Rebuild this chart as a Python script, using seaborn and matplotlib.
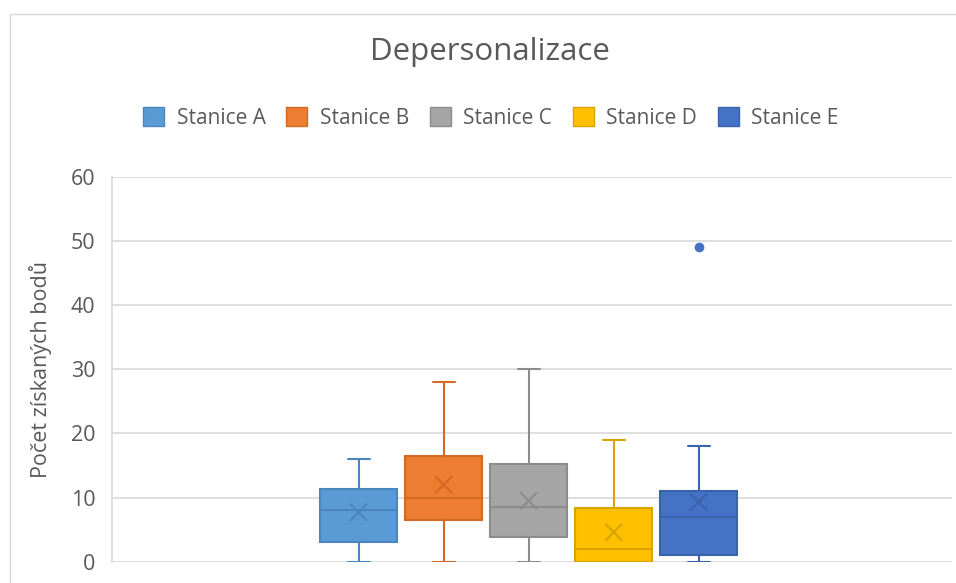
import seaborn as sns
import pandas as pd
import matplotlib.pyplot as plt
from matplotlib.patches import Patch
from matplotlib.lines import Line2D

# values (Excel box & whisker chart)
stations = ["Stanice A", "Stanice B", "Stanice C", "Stanice D", "Stanice E"]
mins = [0, 0, 0, 0, 0]
q1s = [3, 6.5, 3.8, 0, 1]
medians = [8, 10, 8.6, 2, 7]
q3s = [11.3, 16.5, 15.3, 8.3, 11]
maxs = [16, 28, 30, 19, 18]
means = [7.7, 12, 9.5, 4.6, 9.3]
outliers = [[], [], [], [], [49]]

fills = ["#5B9BD5", "#ED7D31", "#A5A5A5", "#FFC000", "#4472C4"]
edges = ["#4A85BE", "#D26A26", "#8C8C8C", "#D9A300", "#3A63AD"]

sns.set_theme(style="white")
plt.rcParams["font.family"] = ["Open Sans", "DejaVu Sans"]
text_col = "#595959"

fig = plt.figure(figsize=(9.56, 5.83), dpi=100)
ax = fig.add_axes([0.1172, 0.0365, 0.8787, 0.660])

stats = []
for i, name in enumerate(stations):
    stats.append(dict(label=name, whislo=mins[i], q1=q1s[i], med=medians[i],
                      q3=q3s[i], whishi=maxs[i], fliers=outliers[i]))

positions = list(range(len(stations)))
for i, st in enumerate(stats):
    ax.bxp([st], positions=[positions[i]], widths=0.9, capwidths=0.26,
           patch_artist=True, showfliers=True, manage_ticks=False,
           boxprops=dict(facecolor=fills[i], edgecolor=edges[i], linewidth=1.5),
           medianprops=dict(color=edges[i], linewidth=1.5),
           whiskerprops=dict(color=edges[i], linewidth=1.5),
           capprops=dict(color=edges[i], linewidth=1.5),
           flierprops=dict(marker="o", markerfacecolor=fills[i],
                           markeredgecolor=fills[i], markersize=6),
           zorder=3)

df_mean = pd.DataFrame({"pos": positions, "mean": means, "station": stations})
sns.scatterplot(data=df_mean, x="pos", y="mean", hue="station", palette=edges,
                marker="x", s=150, linewidth=1.6, legend=False, ax=ax, zorder=4)

ax.set_xlim(-2.90, 6.98)
ax.set_ylim(0, 60)
ax.set_yticks(range(0, 61, 10))
ax.set_xticks([])
ax.set_xlabel("")
ax.yaxis.grid(True, color="#D9D9D9", linewidth=1.2)
ax.set_axisbelow(True)
for s in ["top", "right", "bottom"]:
    ax.spines[s].set_visible(False)
ax.spines["left"].set_color("#D9D9D9")
ax.spines["left"].set_linewidth(1.2)
ax.tick_params(axis="y", labelsize=15.5, labelcolor=text_col, length=0, pad=12)
ax.set_ylabel("Počet získaných bodů", fontsize=15.5, color=text_col)
ax.yaxis.set_label_coords(-0.072, 0.5)

fig.text(0.512, 0.91, "Depersonalizace", ha="center", va="center",
         fontsize=22.5, color=text_col)

handles = [Patch(facecolor=fills[i], edgecolor=edges[i], label=stations[i])
           for i in range(len(stations))]
fig.legend(handles=handles, loc="center", bbox_to_anchor=(0.5135, 0.7976),
           ncol=5, frameon=False, fontsize=15, handlelength=1.0,
           handleheight=1.0, handletextpad=0.6, columnspacing=1.0,
           labelcolor=text_col)

# chart area border (Excel)
fig.add_artist(Line2D([10 / 956, 1], [1 - 14 / 583, 1 - 14 / 583],
                      color="#D9D9D9", linewidth=1))
fig.add_artist(Line2D([10 / 956, 10 / 956], [0, 1 - 14 / 583],
                      color="#D9D9D9", linewidth=1))

fig.savefig("out.png", dpi=100, facecolor="white")
